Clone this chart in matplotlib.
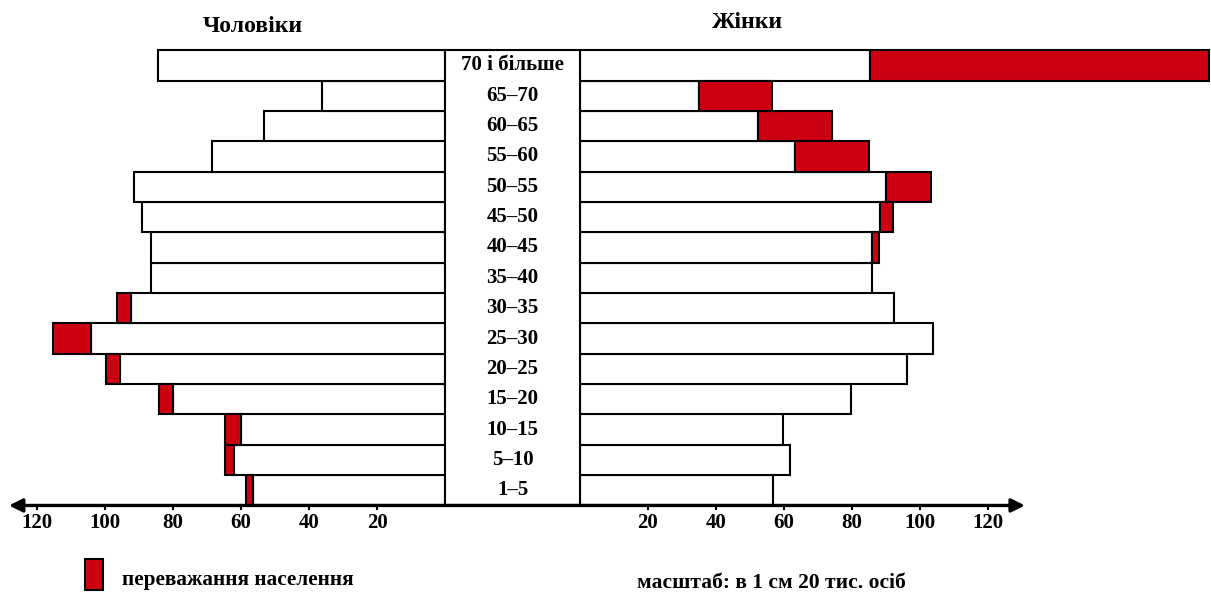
import matplotlib
matplotlib.use('Agg')
import matplotlib.pyplot as plt
from matplotlib.patches import Rectangle
import numpy as np

# age groups, bottom to top
ages = ['1–5', '5–10', '10–15', '15–20', '20–25', '25–30', '30–35', '35–40',
        '40–45', '45–50', '50–55', '55–60', '60–65', '65–70', '70 і більше']

# thousand people (white part = common part, red = excess)
men_base = [56.4, 62.1, 60.1, 79.9, 95.6, 104.1, 92.4, 86.4,
            86.6, 89.0, 91.4, 68.6, 53.2, 36.1, 84.3]
men_total = [58.5, 64.6, 64.6, 84.0, 99.7, 115.4, 96.6, 86.4,
             86.6, 89.0, 91.4, 68.6, 53.2, 36.1, 84.3]
women_base = [56.7, 61.8, 59.8, 79.8, 96.2, 103.7, 92.3, 86.0,
              85.8, 88.2, 90.0, 63.3, 52.4, 35.1, 85.3]
women_total = [56.7, 61.8, 59.8, 79.8, 96.2, 103.7, 92.3, 86.0,
               87.9, 92.2, 103.1, 85.0, 74.0, 56.6, 185.0]

ticks = [20, 40, 60, 80, 100, 120]

RED = '#cc0011'
GAP = 19.85          # half width of the middle column, in data units
FONT = ['Liberation Serif', 'DejaVu Serif']

fig = plt.figure(figsize=(12.11, 5.96), dpi=100)
ax = fig.add_axes([0, 0, 1, 1])
ax.set_xlim(-150.74, 205.44)
ax.set_ylim(-3.483, 16.155)
ax.axis('off')

y = np.arange(len(ages))
mb, mt = np.array(men_base), np.array(men_total)
wb, wt = np.array(women_base), np.array(women_total)

bar_kw = dict(height=1.0, edgecolor='black', linewidth=1.5)

# men on the left
ax.barh(y, -mb, left=-GAP, color='white', **bar_kw)
m_ex = mt - mb
mask = m_ex > 0
ax.barh(y[mask], -m_ex[mask], left=-GAP - mb[mask], color=RED, **bar_kw)

# women on the right
ax.barh(y, wb, left=GAP, color='white', **bar_kw)
w_ex = wt - wb
mask = w_ex > 0
ax.barh(y[mask], w_ex[mask], left=GAP + wb[mask], color=RED, **bar_kw)

# middle column with age labels
ax.add_patch(Rectangle((-GAP, -0.5), 2 * GAP, len(ages), facecolor='white',
                       edgecolor='black', linewidth=1.5, zorder=3))
for i, a in enumerate(ages):
    ax.text(0, i, a, ha='center', va='center', fontsize=15, fontweight='bold',
            family=FONT, zorder=4)

# axis with arrows at both ends
ax.annotate('', xy=(-148.1, -0.5), xytext=(150.7, -0.5),
            arrowprops=dict(arrowstyle='<|-|>', color='black', lw=2.4,
                            mutation_scale=20, shrinkA=0, shrinkB=0), zorder=5)
for t in ticks:
    for x in (-GAP - t, GAP + t):
        ax.plot([x, x], [-0.5, -0.63], color='black', lw=1.5)
        ax.text(x, -1.08, str(t), ha='center', va='center', fontsize=15,
                fontweight='bold', family=FONT)

# titles
ax.text(-76.3, 15.27, 'Чоловіки', ha='center', va='center', fontsize=17,
        fontweight='bold', family=FONT)
ax.text(69.0, 15.43, 'Жінки', ha='center', va='center', fontsize=17,
        fontweight='bold', family=FONT)

# legend and scale note
ax.add_patch(Rectangle((-125.7, -3.285), 5.2, 1.02, facecolor=RED,
                       edgecolor='black', linewidth=1.5))
ax.text(-114.9, -2.955, 'переважання населення', ha='left', va='center',
        fontsize=15.3, fontweight='bold', family=FONT)
ax.text(36.6, -3.05, 'масштаб: в 1 см 20 тис. осіб', ha='left', va='center',
        fontsize=15.5, fontweight='bold', family=FONT)

fig.savefig('out.png', dpi=100)
